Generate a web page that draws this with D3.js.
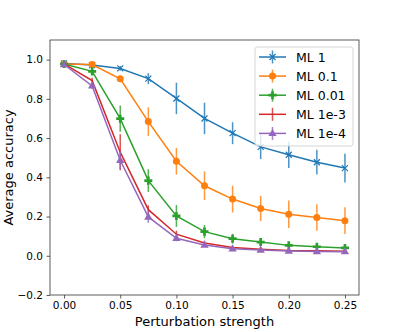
<!DOCTYPE html>
<html><head><meta charset="utf-8">
<script src="https://cdn.jsdelivr.net/npm/d3@7"></script>
<style>body{margin:0;background:#fff}svg{display:block}text{font-family:"DejaVu Sans",sans-serif;fill:#000}</style>
</head><body>
<script>
const xs = [0, 0.025, 0.05, 0.075, 0.1, 0.125, 0.15, 0.175, 0.2, 0.225, 0.25];
const seriesNames = ["ML 1", "ML 0.1", "ML 0.01", "ML 1e-3", "ML 1e-4"];
const ml1 = [0.98, 0.972, 0.955, 0.903, 0.802, 0.70, 0.625, 0.555, 0.515, 0.477, 0.447];
const ml1Err = [0.008, 0.01, 0.012, 0.028, 0.08, 0.08, 0.056, 0.062, 0.067, 0.063, 0.073];
const ml01 = [0.978, 0.975, 0.902, 0.684, 0.482, 0.357, 0.289, 0.241, 0.212, 0.195, 0.179];
const ml01Err = [0.008, 0.01, 0.016, 0.073, 0.068, 0.073, 0.068, 0.064, 0.07, 0.068, 0.068];
const ml001 = [0.978, 0.94, 0.699, 0.383, 0.203, 0.123, 0.087, 0.07, 0.053, 0.046, 0.04];
const ml001Err = [0.008, 0.015, 0.067, 0.058, 0.056, 0.034, 0.025, 0.02, 0.015, 0.013, 0.012];
const ml1e3 = [0.978, 0.893, 0.528, 0.235, 0.11, 0.065, 0.042, 0.033, 0.027, 0.025, 0.023];
const ml1e3Err = [0.008, 0.015, 0.092, 0.022, 0.018, 0.012, 0.008, 0.006, 0.005, 0.005, 0.005];
const ml1e4 = [0.975, 0.866, 0.487, 0.198, 0.089, 0.055, 0.036, 0.029, 0.024, 0.022, 0.021];
const ml1e4Err = [0.008, 0.015, 0.045, 0.03, 0.015, 0.01, 0.007, 0.005, 0.005, 0.004, 0.004];
const xTicks = [0, 0.05, 0.1, 0.15, 0.2, 0.25];
const yTicks = [-0.2, 0, 0.2, 0.4, 0.6, 0.8, 1.0];
const colors = ["#1f77b4", "#ff7f0e", "#2ca02c", "#d62728", "#9467bd"];
const markers = ["x", "circle", "cross", "none", "triangle"];

const series = [
  {name: seriesNames[0], vals: ml1, err: ml1Err},
  {name: seriesNames[1], vals: ml01, err: ml01Err},
  {name: seriesNames[2], vals: ml001, err: ml001Err},
  {name: seriesNames[3], vals: ml1e3, err: ml1e3Err},
  {name: seriesNames[4], vals: ml1e4, err: ml1e4Err}
];

const W = 399, H = 332;
const L = 50, R = 359, T = 40, B = 295;
const svg = d3.select("body").append("svg").attr("width", W).attr("height", H);
const x = d3.scaleLinear().domain([-0.0125, 0.2625]).range([L, R]);
const y = d3.scaleLinear().domain([-0.2, 1.1]).range([B, T]);

function drawMarker(g, type, cx, cy, color) {
  if (type === "x") {
    const s = 3;
    g.append("path").attr("d", `M${cx-s},${cy-s}L${cx+s},${cy+s}M${cx-s},${cy+s}L${cx+s},${cy-s}`)
      .attr("stroke", color).attr("stroke-width", 1.2).attr("fill", "none");
  } else if (type === "circle") {
    g.append("circle").attr("cx", cx).attr("cy", cy).attr("r", 3.5).attr("fill", color);
  } else if (type === "cross") {
    g.append("path").attr("d", d3.symbol().type(d3.symbolCross).size(36)()).attr("transform", `translate(${cx},${cy})`).attr("fill", color);
  } else if (type === "triangle") {
    g.append("path").attr("d", d3.symbol().type(d3.symbolTriangle).size(30)()).attr("transform", `translate(${cx},${cy+0.3})`).attr("fill", color);
  }
}

// axes
const xAxis = d3.axisBottom(x).tickValues(xTicks).tickFormat(d3.format(".2f")).tickSizeOuter(0).tickSize(3.5).tickPadding(3.5);
const yAxis = d3.axisLeft(y).tickValues(yTicks).tickFormat(d => d3.format(".1f")(d).replace("-", "\u2212")).tickSizeOuter(0).tickSize(3.5).tickPadding(3.5);
const gx = svg.append("g").attr("transform", `translate(0,${B})`).call(xAxis);
const gy = svg.append("g").attr("transform", `translate(${L},0)`).call(yAxis);
[gx, gy].forEach(g => {
  g.select(".domain").remove();
  g.selectAll(".tick line").attr("stroke", "#333").attr("stroke-width", 0.8);
  g.selectAll(".tick text").attr("font-size", 10.5).attr("font-family", "DejaVu Sans").attr("fill", "#111");
});

// data
const line = d3.line().x((d, i) => x(xs[i])).y(d => y(d));
series.forEach((s, k) => {
  const g = svg.append("g");
  g.append("path").datum(s.vals).attr("d", line).attr("fill", "none").attr("stroke", colors[k]).attr("stroke-width", 1.5);
  g.selectAll("line.err").data(s.vals).enter().append("line")
    .attr("x1", (d, i) => x(xs[i])).attr("x2", (d, i) => x(xs[i]))
    .attr("y1", (d, i) => y(d - s.err[i])).attr("y2", (d, i) => y(d + s.err[i]))
    .attr("stroke", colors[k]).attr("stroke-width", 1.5).attr("stroke-opacity", 0.8);
  s.vals.forEach((v, i) => drawMarker(g, markers[k], x(xs[i]), y(v), colors[k]));
});

// frame
svg.append("rect").attr("x", L).attr("y", T).attr("width", R - L).attr("height", B - T)
  .attr("fill", "none").attr("stroke", "#333").attr("stroke-width", 0.8);

// labels
svg.append("text").attr("x", (L + R) / 2).attr("y", 326).attr("text-anchor", "middle")
  .attr("font-size", 13).text("Perturbation strength");
svg.append("text").attr("transform", `translate(13,${(T + B) / 2}) rotate(-90)`).attr("text-anchor", "middle")
  .attr("font-size", 13).text("Average accuracy");

// legend
const lg = svg.append("g");
lg.append("rect").attr("x", 255).attr("y", 47).attr("width", 98).attr("height", 99).attr("rx", 2.5)
  .attr("fill", "rgba(255,255,255,0.8)").attr("stroke", "#ccc").attr("stroke-width", 0.8);
series.forEach((s, k) => {
  const cy = 57 + k * 19.1;
  lg.append("line").attr("x1", 259).attr("x2", 286).attr("y1", cy).attr("y2", cy).attr("stroke", colors[k]).attr("stroke-width", 1.5);
  lg.append("line").attr("x1", 272.5).attr("x2", 272.5).attr("y1", cy - 6.5).attr("y2", cy + 6.5).attr("stroke", colors[k]).attr("stroke-width", 1.5).attr("stroke-opacity", 0.8);
  drawMarker(lg, markers[k], 272.5, cy, colors[k]);
  lg.append("text").attr("x", 296).attr("y", cy + 4.5).attr("font-size", 12.5).text(s.name);
});
</script>
</body></html>
